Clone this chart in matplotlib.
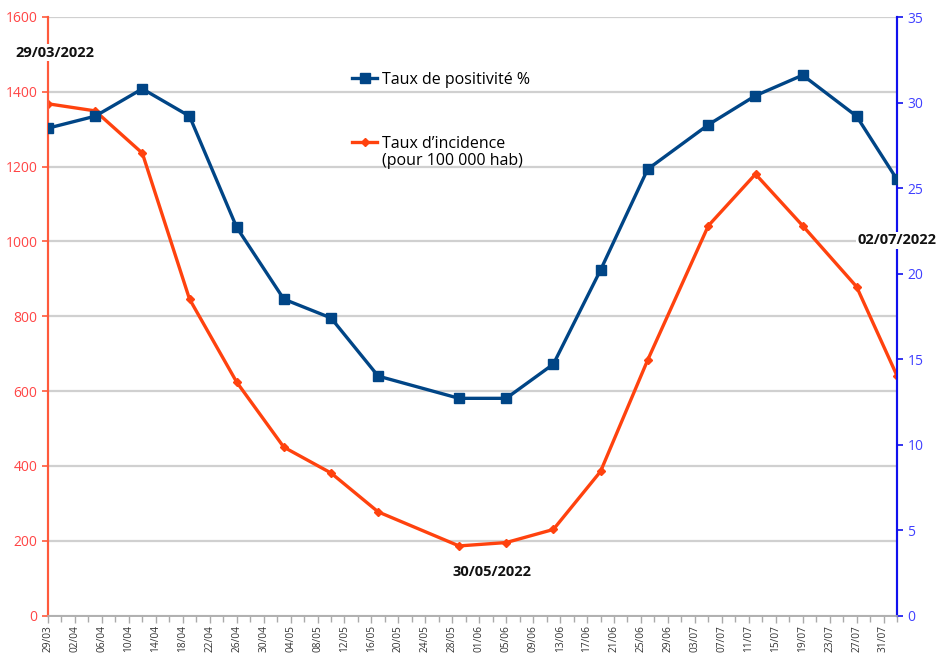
import matplotlib
matplotlib.use("Agg")
import matplotlib.pyplot as plt
import matplotlib.dates as mdates
from matplotlib.ticker import FixedLocator
from matplotlib.lines import Line2D
import numpy as np
import pandas as pd

dates = ["2022-03-29", "2022-04-05", "2022-04-12", "2022-04-19", "2022-04-26",
         "2022-05-03", "2022-05-10", "2022-05-17", "2022-05-29", "2022-06-05",
         "2022-06-12", "2022-06-19", "2022-06-26", "2022-07-05", "2022-07-12",
         "2022-07-19", "2022-07-27", "2022-08-02"]
positivite = [28.5, 29.2, 30.8, 29.2, 22.7, 18.5, 17.4, 14.0, 12.7, 12.7,
              14.7, 20.2, 26.1, 28.7, 30.4, 31.6, 29.2, 25.5]
incidence = [1368, 1349, 1236, 846, 624, 450, 381, 277, 186, 195,
             230, 385, 683, 1042, 1180, 1042, 879, 641]
label_pos = "Taux de positivité %"
label_inc = "Taux d’incidence"
label_inc2 = "(pour 100 000 hab)"
annotations = [("29/03/2022", 0.008, 0.94), ("30/05/2022", 0.523, 0.073), ("02/07/2022", 1.0, 0.627)]

x = pd.to_datetime(dates)

BLUE = "#004586"
ORANGE = "#ff420e"
LEFTC = "#ff5a3c"
LEFTT = "#ff4545"
RIGHTC = "#1010ee"
RIGHTT = "#4040ff"
GRID = "#d0d0d0"

plt.rcParams['font.family'] = ['Open Sans', 'DejaVu Sans']

fig = plt.figure(figsize=(9.5, 6.56), dpi=100)
ax = fig.add_axes([48/950, 1-615.5/656, 849/950, 598.5/656])
ax2 = ax.twinx()

ax.plot(x, incidence, color=ORANGE, lw=2.4, marker='D', ms=4.5, zorder=3)
ax2.plot(x, positivite, color=BLUE, lw=2.4, marker='s', ms=7.5, zorder=3)

ax.set_ylim(0, 1600)
ax.set_yticks(np.arange(0, 1601, 200))
ax2.set_ylim(0, 35)
ax2.set_yticks(np.arange(0, 36, 5))
ax.set_xlim(x[0], x[-1])

ax.yaxis.grid(True, color=GRID, lw=1.6)
ax.set_axisbelow(True)

ax.xaxis.set_major_locator(FixedLocator(mdates.date2num(pd.date_range(x[0], x[-1], freq='4D'))))
ax.xaxis.set_minor_locator(FixedLocator(mdates.date2num(pd.date_range(x[0], x[-1], freq='2D'))))
ax.xaxis.set_major_formatter(mdates.DateFormatter('%d/%m'))
ax.tick_params(axis='x', which='major', labelsize=7.3, labelcolor='#333333', color='#aaaaaa',
               length=5, width=1, direction='out', pad=2, labelrotation=90)
ax.tick_params(axis='x', which='minor', length=4, width=1, color='#aaaaaa')

ax.tick_params(axis='y', labelsize=10, labelcolor=LEFTT, length=4, width=1.2, color=LEFTC)
ax2.tick_params(axis='y', labelsize=10, labelcolor=RIGHTT, length=4, width=1.2, color=RIGHTC)

for a in (ax, ax2):
    a.spines['top'].set_visible(False)
    a.spines['left'].set_color(LEFTC)
    a.spines['right'].set_color(RIGHTC)
    a.spines['bottom'].set_color('#b0b0b0')
    a.spines['left'].set_linewidth(1.5)
    a.spines['right'].set_linewidth(1.5)
    a.spines['bottom'].set_linewidth(1.2)

h1 = Line2D([], [], color=BLUE, lw=2.4, marker='s', ms=7.5)
h2 = Line2D([], [], color=ORANGE, lw=2.4, marker='D', ms=4.5)
h3 = Line2D([], [], color='none')
leg1 = ax2.legend([h1], [label_pos], loc='center left', bbox_to_anchor=(0.358, 0.895),
                  frameon=False, fontsize=11.5, handlelength=1.6, handletextpad=0.3,
                  borderpad=0, borderaxespad=0)
ax2.add_artist(leg1)
leg2 = ax2.legend([h2, h3], [label_inc, label_inc2], loc='center left', bbox_to_anchor=(0.358, 0.774),
                  frameon=False, fontsize=11.5, handlelength=1.6, handletextpad=0.3,
                  borderpad=0, borderaxespad=0, labelspacing=0.05)

for txt, xa, ya in annotations:
    ax2.text(xa, ya, txt, transform=ax2.transAxes, ha='center', va='center',
             fontsize=10.5, fontweight='bold', color='#111111', zorder=5,
             bbox=dict(facecolor='white', edgecolor='none', pad=1))

fig.savefig("out.png", dpi=100)
